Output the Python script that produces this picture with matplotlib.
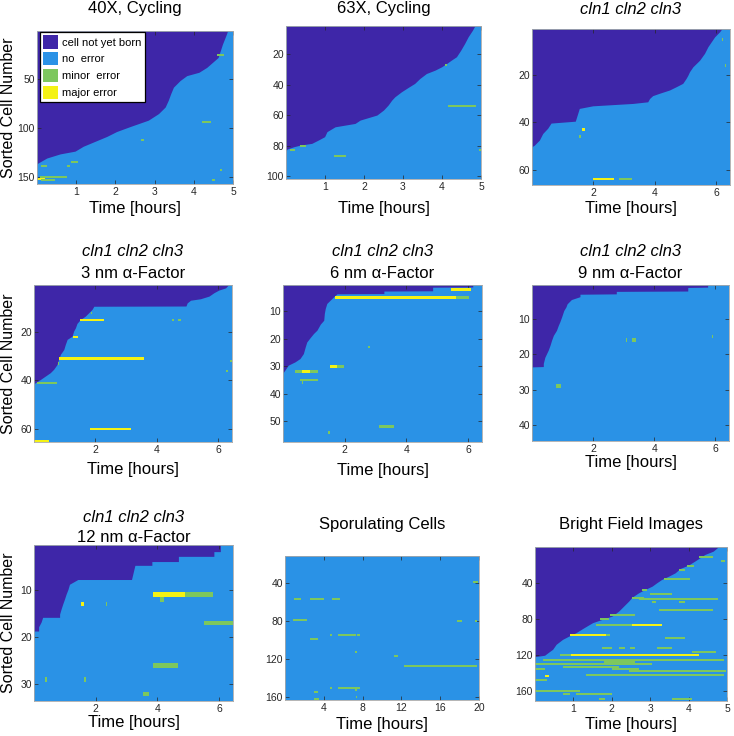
import numpy as np
import matplotlib
matplotlib.use('Agg')
import matplotlib.pyplot as plt
from matplotlib.patches import Patch

plt.rcParams['font.family'] = ['Liberation Sans', 'DejaVu Sans']

# colours (parula-like, as in the MATLAB figure)
c_unborn = '#3E26A8'
c_ok = '#2A92E6'
c_minor = '#7DC75E'
c_major = '#F4F214'
err_color = {'minor': c_minor, 'major': c_major}

# ---------------- data ----------------
# birth boundary: (sorted cell number, birth time in hours)
p1_born_row = [1.5, 4.9, 15, 28.5, 38.6, 43.6, 47, 52, 58.8, 65.5, 72, 79, 85.7, 92.4, 99, 104, 109,
               114, 119, 124, 126.8, 131, 136, 137]
p1_born_time = [4.86, 4.83, 4.73, 4.62, 4.33, 4.13, 3.82, 3.65, 3.48, 3.41, 3.35, 3.27, 3.1, 2.84, 2.37,
                2.03, 1.78, 1.48, 1.18, 0.97, 0.59, 0.25, 0.03, 0]
p1_errors = [(26, 4.58, 4.78, 'minor'), (94, 4.2, 4.43, 'minor'), (113, 2.66, 2.72, 'minor'),
             (135, 0.86, 1.05, 'minor'), (139, 0.76, 0.83, 'minor'), (139, 0.1, 0.25, 'minor'),
             (143, 4.67, 4.73, 'minor'), (150, 0.08, 0.76, 'minor'), (152, 0.0, 0.2, 'major'),
             (153, 0.1, 0.46, 'minor'), (153, 4.47, 4.53, 'minor')]

p2_born_row = [1.5, 4.3, 8.6, 13, 17.4, 21.7, 23.9, 26.1, 28.3, 30.5, 32.7, 36, 39.2, 41.9, 44.7, 48,
               50.2, 53.4, 56.7, 60, 63.3, 65.5, 67.7, 70.9, 74.2, 76.4, 78.6, 79.7, 80.8, 82.3, 83.4]
p2_born_time = [4.84, 4.78, 4.67, 4.58, 4.48, 4.37, 4.24, 4.12, 3.99, 3.82, 3.6, 3.43, 3.3, 3.13, 2.96,
                2.79, 2.71, 2.62, 2.5, 2.33, 1.9, 1.77, 1.26, 1.05, 0.99, 0.83, 0.66, 0.37, 0.2, 0.03, 0]
p2_errors = [(54, 4.16, 4.88, 'minor'), (87, 1.24, 1.53, 'minor'), (80, 0.37, 0.5, 'minor'),
             (83, 0.11, 0.24, 'minor'), (27, 4.07, 4.12, 'minor'), (83, 4.94, 5.0, 'minor')]

p3_born_row = [0.5, 1.7, 3.8, 5.9, 8, 10.8, 13.7, 16.5, 18.6, 20, 21.4, 23.5, 24.9, 26.3, 27.7, 28.7,
               29.9, 31.3, 32, 33, 34.1, 36.2, 39.5, 40.3, 42.5, 44.7, 47.5, 49.6, 50.3]
p3_born_time = [6.18, 6.11, 5.95, 5.84, 5.73, 5.62, 5.46, 5.24, 5.13, 5.08, 5.02, 4.91, 4.7, 4.48, 4.15,
                3.93, 3.83, 3.77, 3.28, 1.98, 1.54, 1.49, 1.41, 0.62, 0.51, 0.35, 0.24, 0.08, 0]
p3_errors = [(64, 1.98, 2.66, 'major'), (64, 2.85, 3.26, 'minor'), (43, 1.63, 1.74, 'major'),
             (46, 1.54, 1.58, 'minor'), (5, 6.18, 6.23, 'minor'), (16, 6.28, 6.33, 'minor')]

p4_born_row = [0.5, 1.7, 2.6, 3.7, 5.1, 6.2, 6.8, 7.9, 9.2, 9.3, 10.6, 12, 13.4, 14.8, 16.4, 18.2, 19.6,
               21.7, 23, 25.1, 27.2, 29.2, 31.3, 33.4, 35.4, 36.8, 38.2, 39.6, 41, 41.3]
p4_born_time = [6.33, 6.24, 6.02, 5.86, 5.7, 5.42, 5.1, 4.99, 4.95, 1.95, 1.89, 1.78, 1.67, 1.51, 1.4,
                1.35, 1.29, 1.24, 1.08, 1.02, 0.97, 0.86, 0.8, 0.75, 0.64, 0.53, 0.37, 0.21, 0.04, 0]
p4_errors = [(15, 1.51, 2.27, 'major'), (22, 1.27, 1.42, 'major'), (31, 0.8, 3.58, 'major'),
             (41, 0.1, 0.75, 'minor'), (60, 1.84, 3.17, 'major'), (65, 0.0, 0.48, 'major'),
             (15, 4.5, 4.55, 'minor'), (15, 4.7, 4.8, 'minor'), (32, 6.39, 6.45, 'minor'),
             (36, 6.27, 6.33, 'minor'), (12, 1.85, 1.9, 'minor'), (33, 0.77, 0.82, 'minor')]

p5_born_row = [0.5, 1.2, 1.3, 2.6, 2.7, 3.6, 3.7, 4.8, 6, 7.2, 9, 10.8, 13.3, 14.7, 16.9, 18.1, 19.6,
               21.2, 23, 25.4, 27.2, 28.4, 29.6, 32.4]
p5_born_time = [6.15, 6.15, 4.85, 4.85, 3.27, 3.27, 1.75, 1.64, 1.53, 1.42, 1.37, 1.34, 1.32, 1.21, 1.1,
                0.99, 0.88, 0.77, 0.72, 0.66, 0.55, 0.39, 0.17, 0]
p5_errors = [(2, 5.45, 6.1, 'major'), (5, 1.7, 5.6, 'major'), (5, 5.6, 6.02, 'minor'),
             (23, 2.76, 2.81, 'minor'), (30, 1.53, 1.75, 'major'), (30, 1.75, 1.99, 'minor'),
             (32, 0.39, 0.6, 'minor'), (32, 0.6, 0.88, 'major'), (32, 0.88, 1.13, 'minor'),
             (35, 0.55, 1.13, 'minor'), (36, 0.6, 0.66, 'minor'), (52, 3.1, 3.6, 'minor'),
             (54, 1.45, 1.51, 'minor')]

p6_born_row = [0.5, 1.1, 1.2, 2.2, 2.3, 3.0, 3.1, 3.8, 4.6, 5.8, 6.7, 7.7, 9.5, 10.9, 11.9, 13.3, 14.7,
               16.1, 17.5, 18.9, 19.8, 20.9, 22.6, 23.5, 23.6]
p6_born_time = [5.75, 5.75, 5.1, 5.1, 2.76, 2.76, 1.57, 1.57, 1.29, 1.15, 1.11, 1.04, 0.97, 0.91, 0.86,
                0.8, 0.7, 0.64, 0.59, 0.53, 0.48, 0.42, 0.37, 0.37, 0]
p6_errors = [(16, 3.28, 3.41, 'minor'), (16, 3.08, 3.12, 'minor'), (15, 5.88, 5.92, 'minor'),
             (29, 0.8, 0.95, 'minor')]

p7_born_row = [0.5, 1.9, 1.9, 2.9, 2.9, 4.0, 4.0, 4.8, 4.8, 7.8, 7.8, 8.8, 9.9, 10.9, 11.9, 13, 14,
               15.1, 15.8, 15.8, 16.8, 17.8, 18.7, 18.7]
p7_born_time = [6.04, 6.04, 5.83, 5.83, 4.68, 4.68, 3.82, 3.82, 3.27, 3.16, 1.42, 1.15, 1.1, 1.04, 0.99,
                0.93, 0.88, 0.83, 0.83, 0.28, 0.23, 0.15, 0.15, 0]
p7_errors = [(11, 3.87, 4.88, 'major'), (11, 4.91, 5.8, 'minor'), (12, 4.1, 4.2, 'minor'),
             (13, 1.52, 1.61, 'major'), (13, 2.33, 2.38, 'minor'), (17, 5.5, 6.46, 'minor'),
             (26, 3.87, 4.66, 'minor'), (29, 0.36, 0.41, 'minor'), (29, 1.62, 1.67, 'minor'),
             (32, 3.52, 3.73, 'minor')]

p8_born_row = []
p8_born_time = []
p8_errors = [(39, 19.4, 19.9, 'minor'), (57, 0.97, 1.6, 'minor'), (57, 2.55, 4.07, 'minor'),
             (57, 4.8, 5.65, 'minor'), (79, 0.8, 2.28, 'minor'), (80, 17.7, 18.2, 'minor'),
             (80, 19.6, 19.8, 'minor'), (95, 4.6, 4.8, 'minor'), (95, 5.45, 7.28, 'minor'),
             (95, 7.45, 7.7, 'minor'), (99, 2.6, 3.4, 'minor'), (113, 7.2, 7.4, 'minor'),
             (117, 11.2, 11.6, 'minor'), (127, 12.3, 19.8, 'minor'), (151, 4.6, 4.8, 'minor'),
             (151, 5.45, 7.7, 'minor'), (153, 7.2, 7.4, 'minor'), (155, 3.0, 3.4, 'minor'),
             (160, 7.3, 7.4, 'minor'), (162, 3.0, 3.5, 'minor')]

p9_born_row = [0.5, 5.1, 8.8, 12.5, 16.1, 20.6, 24.2, 29, 32.7, 36.3, 40, 43.7, 47.3, 51, 55.8, 60.2,
               65.7, 71.2, 76.7, 80.4, 84, 89.5, 95, 98.7, 102.4, 107.9, 113.4, 117.1, 120, 121.5]
p9_born_time = [4.77, 4.64, 4.42, 4.29, 4.16, 3.99, 3.78, 3.65, 3.48, 3.3, 3.17, 3.05, 2.87, 2.7, 2.53,
                2.44, 2.31, 2.18, 2.01, 1.75, 1.5, 1.28, 1.07, 0.89, 0.72, 0.55, 0.46, 0.34, 0.25, 0]
p9_errors = [(12, 4.28, 4.64, 'minor'), (16, 4.85, 4.95, 'minor'), (21, 3.95, 4.15, 'minor'),
             (26, 3.74, 3.9, 'minor'), (36, 3.35, 4.03, 'minor'), (48, 2.79, 2.92, 'minor'),
             (52, 3.0, 3.56, 'minor'), (57, 2.53, 2.84, 'minor'), (58, 2.71, 4.77, 'minor'),
             (61, 3.05, 3.15, 'minor'), (61, 3.75, 3.9, 'minor'), (70, 3.23, 4.64, 'minor'),
             (76, 1.96, 2.6, 'minor'), (80, 1.68, 1.94, 'minor'), (87, 1.58, 2.53, 'minor'),
             (87, 2.53, 3.3, 'major'), (98, 0.9, 1.85, 'major'), (98, 1.85, 1.96, 'minor'),
             (101, 3.38, 3.9, 'minor'), (112, 1.75, 2.0, 'minor'), (112, 2.2, 2.35, 'minor'),
             (112, 2.48, 2.6, 'minor'), (112, 3.17, 3.56, 'minor'), (116, 4.08, 4.72, 'minor'),
             (120, 0.65, 0.95, 'minor'), (120, 0.95, 4.26, 'major'), (125, 0.2, 4.93, 'minor'),
             (127, 1.8, 2.6, 'minor'), (130, 0.0, 3.05, 'minor'), (133, 0.72, 2.2, 'minor'),
             (135, 2.0, 2.7, 'minor'), (135, 0.0, 0.25, 'minor'), (137, 2.45, 4.98, 'minor'),
             (142, 1.32, 4.93, 'minor'), (143, 0.25, 0.37, 'major'), (147, 0.0, 0.3, 'minor'),
             (159, 0.0, 1.16, 'minor'), (163, 0.72, 0.9, 'minor'), (163, 1.06, 2.0, 'minor'),
             (168, 3.56, 4.08, 'minor'), (168, 1.67, 1.83, 'minor')]

legend_labels = ['cell not yet born', 'no  error', 'minor  error', 'major error']

# ---------------- layout (pixel boxes: left, top, right, bottom) ----------------
W, H = 734, 736
fig = plt.figure(figsize=(W / 100, H / 100), dpi=100)

panels = [
    dict(box=(37, 31, 233, 184), born=(p1_born_row, p1_born_time), err=p1_errors, xmax=5, ylim=(157.5, 1.5),
         xt=[1, 2, 3, 4, 5], yt=[50, 100, 150], title=[('40X, Cycling', 'normal', 9)], xl=209, yl=True),
    dict(box=(286, 26, 481, 179), born=(p2_born_row, p2_born_time), err=p2_errors, xmax=5, ylim=(102, 1.5),
         xt=[1, 2, 3, 4, 5], yt=[20, 40, 60, 80, 100], title=[('63X, Cycling', 'normal', 9)], xl=209, yl=False),
    dict(box=(532, 29, 730, 185), born=(p3_born_row, p3_born_time), err=p3_errors, xmax=6.45, ylim=(66.5, 0.5),
         xt=[2, 4, 6], yt=[20, 40, 60], title=[('cln1 cln2 cln3', 'italic', 9)], xl=209, yl=False),
    dict(box=(34, 285, 232, 442), born=(p4_born_row, p4_born_time), err=p4_errors, xmax=6.45, ylim=(65.5, 0.5),
         xt=[2, 4, 6], yt=[20, 40, 60],
         title=[('cln1 cln2 cln3', 'italic', 252), ('3 nm α-Factor', 'normal', 273)], xl=470, yl=True),
    dict(box=(283, 285, 482, 442), born=(p5_born_row, p5_born_time), err=p5_errors, xmax=6.45, ylim=(57.5, 0.5),
         xt=[2, 4, 6], yt=[10, 20, 30, 40, 50],
         title=[('cln1 cln2 cln3', 'italic', 252), ('6 nm α-Factor', 'normal', 273)], xl=471, yl=False),
    dict(box=(532, 285, 729, 441), born=(p6_born_row, p6_born_time), err=p6_errors, xmax=6.45, ylim=(44.5, 0.5),
         xt=[2, 4, 6], yt=[10, 20, 30, 40],
         title=[('cln1 cln2 cln3', 'italic', 252), ('9 nm α-Factor', 'normal', 273)], xl=462, yl=False),
    dict(box=(34, 545, 233, 701), born=(p7_born_row, p7_born_time), err=p7_errors, xmax=6.45, ylim=(33.5, 0.5),
         xt=[2, 4, 6], yt=[10, 20, 30],
         title=[('cln1 cln2 cln3', 'italic', 518), ('12 nm α-Factor', 'normal', 537)], xl=723, yl=True),
    dict(box=(285, 556, 479, 700), born=(p8_born_row, p8_born_time), err=p8_errors, xmax=20, ylim=(163.5, 11),
         xt=[4, 8, 12, 16, 20], yt=[40, 80, 120, 160], title=[('Sporulating Cells', 'normal', 525)], xl=724, yl=False),
    dict(box=(535, 547, 727, 701), born=(p9_born_row, p9_born_time), err=p9_errors, xmax=5, ylim=(170.5, 0.5),
         xt=[1, 2, 3, 4, 5], yt=[40, 80, 120, 160], title=[('Bright Field Images', 'normal', 525)], xl=725, yl=False),
]

for i, p in enumerate(panels):
    l, t, r, b = p['box']
    ax = fig.add_axes([l / W, 1 - b / H, (r - l) / W, (b - t) / H])
    ax.set_facecolor(c_ok)
    rows, times = p['born']
    if len(rows):
        ax.fill_betweenx(rows, 0, times, color=c_unborn, linewidth=0, zorder=1)
    # error bars at least ~2 px thick
    px_per_row = (b - t) / (p['ylim'][0] - p['ylim'][1])
    h = max(1.0, 2.0 / px_per_row)
    for row, start, end, kind in p['err']:
        ax.barh(row, end - start, left=start, height=h, color=err_color[kind], linewidth=0, zorder=2)
    ax.set_xlim(0, p['xmax'])
    ax.set_ylim(*p['ylim'])
    ax.set_xticks(p['xt'])
    ax.set_yticks(p['yt'])
    ax.tick_params(direction='in', length=3, width=0.5, labelsize=7.5, colors='#262626',
                   top=True, right=True)
    ax.tick_params(axis='x', pad=2.5)
    ax.tick_params(axis='y', pad=1.5)
    for s in ax.spines.values():
        s.set_color('#a8a8a8')
        s.set_linewidth(0.6)
    ax.set_xlabel('Time [hours]', fontsize=12, va='center')
    ax.xaxis.set_label_coords(0.5, -(p['xl'] - b) / (b - t))
    if p['yl']:
        ax.set_ylabel('Sorted Cell Number', fontsize=11.5, va='center')
        ax.yaxis.set_label_coords(-(l - 8.5) / (r - l), 0.5)
    for text, style, ypx in p['title']:
        ax.text(0.5, 1 + (t - ypx) / (b - t), text, transform=ax.transAxes, ha='center', va='center',
                fontsize=12, style=style)
    if i == 0:
        handles = [Patch(facecolor=c, edgecolor='none') for c in [c_unborn, c_ok, c_minor, c_major]]
        leg = ax.legend(handles, legend_labels, loc='upper left', bbox_to_anchor=(0.015, 0.993),
                        borderaxespad=0, fontsize=8, handlelength=1.3, handleheight=1.45,
                        handletextpad=0.4, labelspacing=0.32, borderpad=0.3, fancybox=False,
                        framealpha=1, edgecolor='black')
        leg.get_frame().set_linewidth(0.9)
        leg.set_zorder(5)

fig.savefig('out.png', dpi=100)
